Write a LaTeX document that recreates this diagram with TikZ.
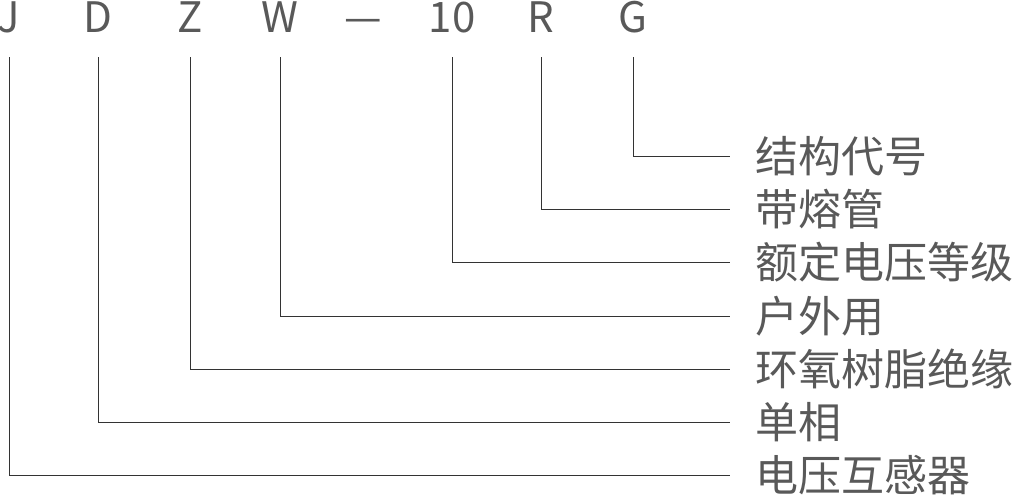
\documentclass[tikz,border=0pt]{standalone}
\usepackage{fontspec}
\setmainfont{Noto Sans CJK SC}
\usepackage{tikz}

\begin{document}
\begin{tikzpicture}[x=1pt,y=-1pt,
		code/.style={anchor=base,inner sep=0pt,text depth=0pt,text=black!65,font=\fontsize{42}{42}\selectfont},
		meaning/.style={anchor=west,inner sep=0pt,text=black!65,font=\fontsize{43}{43}\selectfont},
		lead/.style={draw=black!80,line width=0.8pt,shorten <=24pt,shorten >=25pt}]
			\useasboundingbox (0,0) rectangle (1013,495);
			% model letters
			\node[code] (J)  at (9,33)   {J};
			\node[code] (D)  at (98,33)  {D};
			\node[code] (Z)  at (190,33) {Z};
			\node[code] (W)  at (280,33) {W};
			\node[code] (dash) at (363,33) {—};
			\node[code] (U)  at (452,33) {10};
			\node[code] (R)  at (541,33) {R};
			\node[code] (G)  at (633,33) {G};
			% meanings
			\node[meaning] (mG) at (755,156) {结构代号};
			\node[meaning] (mR) at (755,209) {带熔管};
			\node[meaning] (mU) at (755,262) {额定电压等级};
			\node[meaning] (mW) at (755,316) {户外用};
			\node[meaning] (mZ) at (755,369) {环氧树脂绝缘};
			\node[meaning] (mD) at (755,422) {单相};
			\node[meaning] (mJ) at (755,475) {电压互感器};
			\draw[lead] (G.south) |- (mG.west);
			\draw[lead] (R.south) |- (mR.west);
			\draw[lead] (U.south) |- (mU.west);
			\draw[lead] (W.south) |- (mW.west);
			\draw[lead] (Z.south) |- (mZ.west);
			\draw[lead] (D.south) |- (mD.west);
			\draw[lead] (J.south) |- (mJ.west);
		\end{tikzpicture}
\end{document}
